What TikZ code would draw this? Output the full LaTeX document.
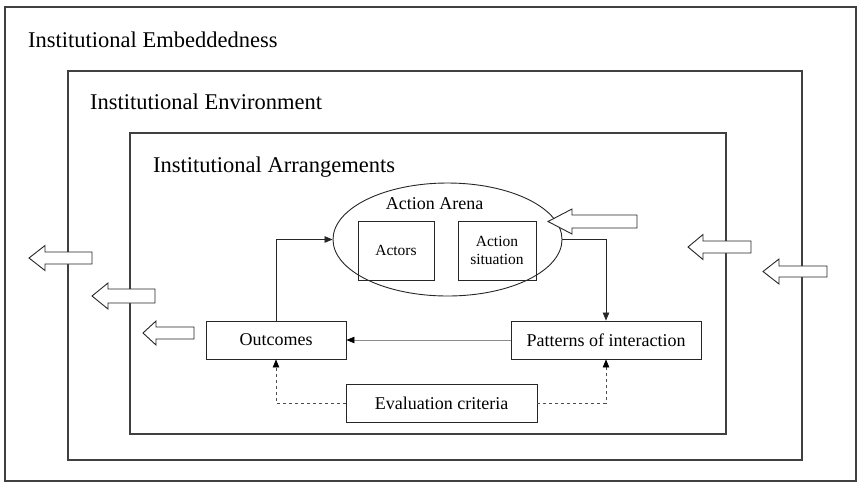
\documentclass[tikz,border=0pt]{standalone}
\usepackage{fontspec}
\setmainfont{Liberation Serif}
\usetikzlibrary{arrows.meta,shapes.geometric}

% hollow left-pointing block arrow: tip x, head-base x, tail x, centre y, shaft half-height, head half-height
\newcommand\hollowarrow[6]{%
  \draw[blockarrow] (#1,#4) -- (#2,#4-#6) -- (#2,#4-#5) -- (#3,#4-#5)
    -- (#3,#4+#5) -- (#2,#4+#5) -- (#2,#4+#6) -- cycle;}

\begin{document}
\begin{tikzpicture}[x=1pt,y=-1pt,
  frame/.style={draw=black!75, line width=1.1pt},
  title/.style={anchor=base west, inner sep=0pt, font=\fontsize{22.5}{26}\selectfont},
  box/.style={draw=black!85, line width=0.9pt, inner sep=0pt,
    font=\fontsize{18}{21}\selectfont},
  smallbox/.style={draw=black!85, line width=0.8pt, inner sep=0pt, align=center,
    font=\fontsize{15.5}{17.5}\selectfont},
  conn/.style={draw=black!85, line width=0.8pt, -{Triangle[length=8pt,width=6.5pt]}},
  faintconn/.style={draw=black!45, line width=0.7pt, -{Triangle[length=8pt,width=6.5pt,color=black]}},
  dashconn/.style={draw=black!70, line width=0.7pt, dash pattern=on 3pt off 3pt,
    -{Triangle[length=8pt,width=6.5pt,color=black]}},
  blockarrow/.style={draw=black!85, line width=0.9pt, fill=white, line join=miter}]

\useasboundingbox (0,0) rectangle (858,483);

% nested institutional frames
\draw[frame] (5,7) rectangle (856,481);
\draw[frame] (68,71) rectangle (802,460);
\draw[frame] (130,133) rectangle (726,434);

\node[title] (tEmb) at (28,47) {Institutional Embeddedness};
\node[title] (tEnv) at (90,109) {Institutional Environment};
\node[title] (tArr) at (153,172) {Institutional Arrangements};

% action arena
\node[ellipse, draw=black!85, line width=0.9pt, minimum width=229pt, minimum height=113pt,
  inner sep=0pt] (arena) at (447.5,239.5) {};
\node[anchor=base, inner sep=0pt, font=\fontsize{18}{21}\selectfont] (arenaLabel) at (434.5,209) {Action Arena};
\node[smallbox, minimum width=76pt, minimum height=59pt] (actors) at (396,250.5) {Actors};
\node[smallbox, minimum width=78pt, minimum height=59pt] (situation) at (497,250.5) {Action\\situation};

% outcome / interaction / evaluation boxes
\node[box, minimum width=140pt, minimum height=38pt] (out) at (276,340) {Outcomes};
\node[box, minimum width=190pt, minimum height=38pt] (pat) at (606,340) {Patterns of interaction};
\node[box, minimum width=191pt, minimum height=38pt] (eval) at (441.5,403) {Evaluation criteria};

% connectors
\draw[conn] (out.north) |- (arena.west);
\draw[conn] (arena.east) -| (pat.north);
\draw[faintconn] (pat.west) -- (out.east);
\draw[dashconn] (eval.west) -| (out.south);
\draw[dashconn] (eval.east) -| (pat.south);

% block arrows crossing the frames
\hollowarrow{29}{45}{92}{258}{6}{12.5}
\hollowarrow{92}{108}{155}{296}{7}{13}
\hollowarrow{143}{156}{194}{333}{6}{12}
\hollowarrow{548}{572}{637}{221.5}{6.5}{12.5}
\hollowarrow{688}{703}{751}{247}{6}{12.5}
\hollowarrow{763}{779}{827}{271.5}{5.5}{12.5}

\end{tikzpicture}
\end{document}
